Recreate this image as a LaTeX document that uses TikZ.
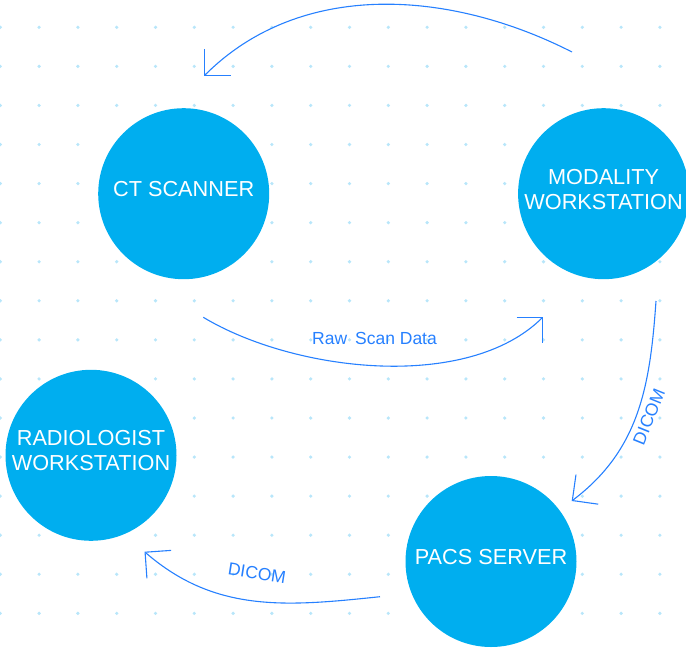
\documentclass[tikz,border=0pt]{standalone}
\usepackage{fontspec}
\setmainfont{Liberation Sans}
\usetikzlibrary{arrows.meta}

\definecolor{nodeblue}{HTML}{00AEEF}
\definecolor{linkblue}{HTML}{2680FF}
\definecolor{dotblue}{HTML}{B8E6FA}

\begin{document}
\begin{tikzpicture}[x=1pt, y=1pt,
    station/.style={circle, fill=nodeblue, minimum size=171pt, inner sep=0pt, text=white, align=center, text depth=9pt, font=\fontsize{21.7}{25}\selectfont},
    dataflow/.style={-{Straight Barb[length=18.5pt, width=37pt]}, linkblue, line width=1.1pt},
    flowlabel/.style={text=linkblue, font=\fontsize{17.5}{20}\selectfont, inner sep=0pt},
    griddot/.style={fill=dotblue}
]
\useasboundingbox (0,0) rectangle (686,-648);
% dotted background grid
\foreach \i in {0,...,17}
    \foreach \j in {0,...,15}
        \fill[griddot] (0.3+38.8*\i, -27.3-39.07*\j) circle (1.8);

\node[station] (ct)   at (183.7,-193.7) {CT SCANNER};
\node[station] (mod)  at (603.6,-193.7) {MODALITY\\WORKSTATION};
\node[station] (rad)  at (91,-455.3)    {RADIOLOGIST\\WORKSTATION};
\node[station] (pacs) at (491,-561.5)   {PACS SERVER};

% loose ends of the arrows
\coordinate (mod-back) at ([shift={(-31.6,141.7)}]mod.center);
\coordinate (ct-in)    at ([shift={(20.3,117.7)}]ct.center);
\coordinate (ct-out)   at ([shift={(19.6,-123.6)}]ct.center);
\coordinate (mod-in)   at ([shift={(-60.3,-123)}]mod.center);
\coordinate (mod-out)  at ([shift={(52.4,-107.3)}]mod.center);
\coordinate (pacs-in)  at ([shift={(80.7,60.5)}]pacs.center);
\coordinate (pacs-out) at ([shift={(-111,-35.2)}]pacs.center);
\coordinate (rad-in)   at ([shift={(53.5,-96.4)}]rad.center);

\draw[dataflow] (mod-back) to[out=153, in=45, looseness=0.95] (ct-in);
\draw[dataflow] (ct-out) to[out=-31, in=-135, looseness=0.8] (mod-in);
\draw[dataflow] (mod-out) to[out=-94, in=37] (pacs-in);
\draw[dataflow] (pacs-out) to[out=186, in=-41] (rad-in);

\node[flowlabel] (raw)    at (374.5,-338)             {Raw\hspace{8pt}Scan Data};
\node[flowlabel, rotate=68] (dicom1) at (649,-416.7)  {DICOM};
\node[flowlabel, rotate=-9] (dicom2) at (257,-573)    {DICOM};
\end{tikzpicture}
\end{document}
